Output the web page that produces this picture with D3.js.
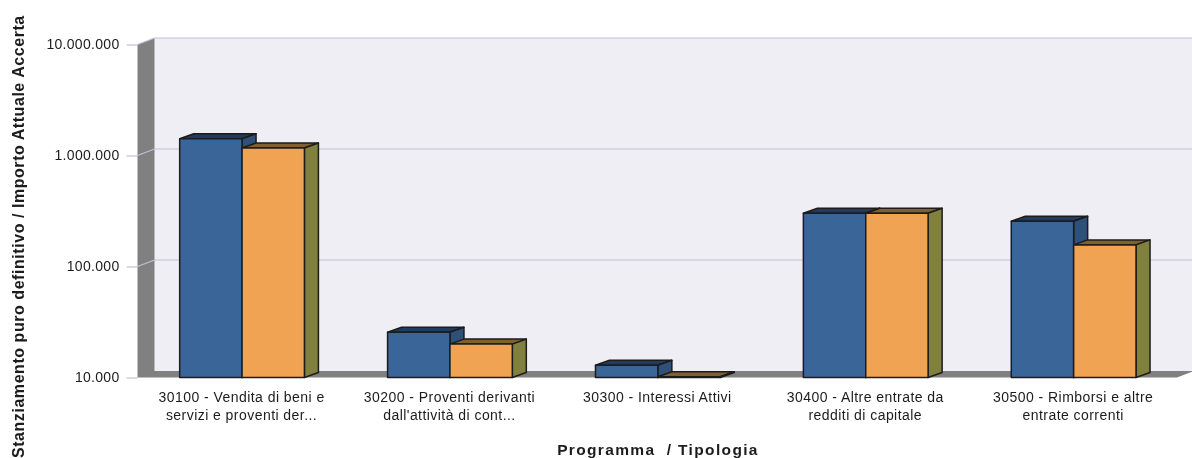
<!DOCTYPE html>
<html>
<head>
<meta charset="utf-8">
<script src="https://cdn.jsdelivr.net/npm/d3@7"></script>
<style>
  html, body { margin: 0; padding: 0; background: #fff; overflow: hidden; }
  text { font-family: "Liberation Sans", Arial, sans-serif; fill: #1c1c1c; }
  svg { display: block; filter: blur(0.4px); }
</style>
</head>
<body>
<div id="chart"></div>
<script>
const categories = ["30100", "30200", "30300", "30400", "30500"];
const categoryLabels = [
  ["30100 - Vendita di beni e", "servizi e proventi der..."],
  ["30200 - Proventi derivanti", "dall'attività di cont..."],
  ["30300 - Interessi Attivi"],
  ["30400 - Altre entrate da", "redditi di capitale"],
  ["30500 - Rimborsi e altre", "entrate correnti"],
];
const stanziamento = [1416000, 25600, 12900, 302000, 255800];
const importo = [1168000, 20000, 10150, 302000, 156500];
const yTicks = [10000, 100000, 1000000, 10000000];

// Declare the chart dimensions.
const width = 1192;
const height = 458;
const plotLeft = 137.5;
const plotRight = 1177;
const plotTop = 44.5;
const plotBottom = 377.5;
const wallDx = 17;
const wallDy = 6.5;
const barDx = 14;
const barDy = 5;

// Dots as thousands separator, as in the original.
const it = d3.formatLocale({ decimal: ",", thousands: ".", grouping: [3], currency: ["", ""] });

const x = d3.scaleBand(categories, [plotLeft + 0.6, plotRight + 0.6]).paddingInner(0.4).paddingOuter(0.2);
const xSeries = d3.scaleBand([0, 1], [0, x.bandwidth()]);
const y = d3.scaleLog([10000, 10000000], [plotBottom, plotTop]);

const svg = d3.select("#chart").append("svg").attr("width", width).attr("height", height);

// Back wall
svg.append("rect")
  .attr("x", plotLeft + wallDx).attr("y", plotTop - wallDy)
  .attr("width", width - plotLeft - wallDx).attr("height", plotBottom - plotTop)
  .attr("fill", "#eeeef4");

// Left wall and floor
const wallPoints = [
  [plotLeft, plotTop],
  [plotLeft + wallDx, plotTop - wallDy],
  [plotLeft + wallDx, plotBottom - wallDy],
  [plotRight + wallDx, plotBottom - wallDy],
  [plotRight, plotBottom],
  [plotLeft, plotBottom],
];
svg.append("path").attr("d", d3.line()(wallPoints) + "Z").attr("fill", "#808080");

// Gridlines on the back wall and the folded part on the left wall
const grid = svg.append("g").attr("stroke", "#c0c0d8").attr("fill", "none").attr("stroke-width", 1.2);
grid.selectAll("line.back").data(yTicks.slice(1)).join("line").attr("class", "back")
  .attr("x1", plotLeft + wallDx).attr("x2", width)
  .attr("y1", (d) => y(d) - wallDy).attr("y2", (d) => y(d) - wallDy);
grid.selectAll("line.fold").data(yTicks.slice(1)).join("line").attr("class", "fold")
  .attr("x1", plotLeft).attr("x2", plotLeft + wallDx)
  .attr("y1", (d) => y(d)).attr("y2", (d) => y(d) - wallDy);

// Add the y-axis.
svg.append("g")
  .attr("transform", `translate(${plotLeft},0)`)
  .call(d3.axisLeft(y).tickValues(yTicks).tickFormat(it.format(",d")).tickSize(11).tickPadding(7))
  .call((g) => g.select(".domain").remove())
  .call((g) => g.selectAll(".tick line").attr("stroke", "#c0c0d8").attr("stroke-width", 1.2))
  .call((g) => g.selectAll(".tick text").attr("font-size", 14).attr("letter-spacing", 0.3));

// Bars, back to front in each group
const series = [
  { values: stanziamento, front: "#3a6598", top: "#203a60", side: "#2e5079" },
  { values: importo, front: "#f0a352", top: "#80602e", side: "#80803f" },
];
const barStroke = "#1c1c1c";
const groups = svg.append("g").selectAll("g").data(categories).join("g")
  .attr("transform", (d) => `translate(${x(d)},0)`);

groups.each(function (cat, i) {
  const g = d3.select(this);
  series.forEach((s, k) => {
    const x0 = xSeries(k);
    const x1 = x0 + xSeries.bandwidth();
    const yTop = y(s.values[i]);
    const faces = [
      { pts: [[x0, yTop], [x0 + barDx, yTop - barDy], [x1 + barDx, yTop - barDy], [x1, yTop]], fill: s.top },
      { pts: [[x1, yTop], [x1 + barDx, yTop - barDy], [x1 + barDx, plotBottom - barDy], [x1, plotBottom]], fill: s.side },
      { pts: [[x0, yTop], [x1, yTop], [x1, plotBottom], [x0, plotBottom]], fill: s.front },
    ];
    g.selectAll(null).data(faces).join("path")
      .attr("d", (f) => d3.line()(f.pts) + "Z")
      .attr("fill", (f) => f.fill)
      .attr("stroke", barStroke)
      .attr("stroke-width", 1.5)
      .attr("stroke-linejoin", "round");
  });
});

// Category labels
const labels = svg.append("g").attr("text-anchor", "middle").attr("font-size", 14).attr("letter-spacing", 0.45);
labels.selectAll("text").data(categories).join("text")
  .attr("x", (d) => x(d) + x.bandwidth() / 2 - 0.5)
  .attr("y", 402)
  .selectAll("tspan").data((d, i) => categoryLabels[i]).join("tspan")
  .attr("x", function () { return d3.select(this.parentNode).attr("x"); })
  .attr("dy", (d, j) => (j === 0 ? 0 : 18))
  .text((d) => d);

// Axis titles
svg.append("text")
  .attr("x", 658).attr("y", 455)
  .attr("text-anchor", "middle").attr("font-size", 15.5).attr("font-weight", "bold")
  .attr("letter-spacing", 1.35)
  .style("white-space", "pre")
  .text("Programma  / Tipologia");

svg.append("text")
  .attr("transform", "translate(24,458) rotate(-90)")
  .attr("font-size", 16).attr("font-weight", "bold")
  .attr("letter-spacing", 0.55)
  .text("Stanziamento puro definitivo / Importo Attuale Accerta");
</script>
</body>
</html>
